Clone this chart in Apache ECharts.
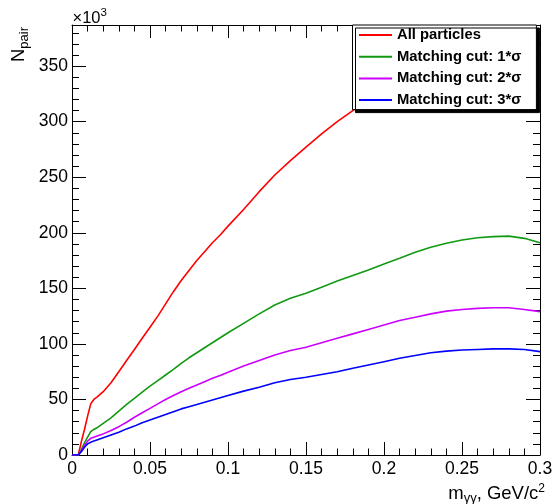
<!DOCTYPE html>
<html><head><meta charset="utf-8">
<script src="https://cdn.jsdelivr.net/npm/echarts@6/dist/echarts.min.js"></script>
<style>html,body{margin:0;padding:0;background:#fff}#c{width:553px;height:504px}</style>
</head><body><div id="c"></div>
<script>
// x positions (GeV/c^2) at which values were read
const xValues = [0, 0.004, 0.006, 0.008, 0.010, 0.012, 0.014, 0.016, 0.020, 0.025, 0.030, 0.035, 0.040, 0.045, 0.050, 0.055, 0.060, 0.065, 0.070, 0.075, 0.080, 0.085, 0.090, 0.095, 0.100, 0.110, 0.120, 0.130, 0.140, 0.150, 0.160, 0.170, 0.180, 0.190, 0.200, 0.210, 0.220, 0.230, 0.240, 0.250, 0.260, 0.270, 0.280, 0.290, 0.300];
// N_pair in units of 10^3
const allParticles = [0, 0, 12, 23, 35, 46, 50, 52, 57, 65, 75, 85, 95, 105, 115, 125, 136, 147, 157, 166, 175, 183, 191, 198, 206, 221, 237, 252, 265, 277, 289, 300, 310, 320, 329, 337, 344, 350, 356, 361, 365, 368, 370, 371, 370];
const cut1Sigma = [0, 0, 5, 11, 16, 21, 23, 24.5, 28.5, 33.5, 39.5, 45.5, 51, 56.5, 62, 67, 72, 77, 82.5, 87.5, 92, 96.5, 101, 105.5, 110, 118.5, 127, 135, 141, 145.5, 151, 156.5, 161.5, 166.5, 172, 177, 182.5, 187, 190.5, 193.5, 195.5, 196.5, 197, 195, 191];
const cut2Sigma = [0, 0, 4, 8.5, 12.5, 15, 16, 17, 19, 22, 25.5, 29.5, 34, 38, 42, 46, 50, 53.5, 57, 60, 63, 66, 69, 71.5, 74.5, 80, 85, 90, 94, 97, 101, 105, 109, 113, 117, 121, 124, 127, 129.5, 131, 132, 132.5, 132.5, 131, 129];
const cut3Sigma = [0, 0, 3, 7, 10, 11.5, 12.5, 13.5, 15.5, 18, 20.5, 23.5, 26, 29, 31.5, 34, 36.5, 39, 41.5, 43.5, 45.5, 47.5, 49.5, 51.5, 53.5, 57.5, 61, 65, 68, 70, 72.5, 75, 78, 81, 84, 87, 89.5, 92, 93.5, 94.5, 95, 95.5, 95.5, 95, 93];
const seriesNames = ['All particles', 'Matching cut: 1*σ', 'Matching cut: 2*σ', 'Matching cut: 3*σ'];
const seriesValues = [allParticles, cut1Sigma, cut2Sigma, cut3Sigma];
const seriesColors = ['#ff0000', '#119a11', '#cc00ff', '#0000ff'];
const xRange = [0, 0.3];
const yRange = [0, 387];

const FONT = "'Liberation Sans', Arial, Helvetica, sans-serif";
const BLACK = '#000';

function xAx(pos, showLabel) {
  return {
    type: 'value', position: pos, min: xRange[0], max: xRange[1], interval: 0.05,
    axisLine: { show: true, onZero: false, lineStyle: { color: BLACK, width: 1 } },
    axisTick: { show: true, inside: true, length: 13, lineStyle: { color: BLACK, width: 1 } },
    minorTick: { show: true, splitNumber: 5, length: 6.5, lineStyle: { color: BLACK, width: 1 } },
    splitLine: { show: false }, minorSplitLine: { show: false },
    axisLabel: { show: showLabel, color: BLACK, fontFamily: FONT, fontSize: 17.5, margin: 5 }
  };
}
function yAx(pos, interval, len, showLine, showLabel) {
  return {
    type: 'value', position: pos, min: yRange[0], max: yRange[1], interval: interval,
    axisLine: { show: showLine, onZero: false, lineStyle: { color: BLACK, width: 1 } },
    axisTick: { show: true, inside: true, length: len, lineStyle: { color: BLACK, width: 1 } },
    splitLine: { show: false },
    axisLabel: { show: showLabel, showMaxLabel: false, color: BLACK, fontFamily: FONT, fontSize: 17.5, margin: 4 }
  };
}

const chart = echarts.init(document.getElementById('c'), null, { renderer: 'canvas' });
chart.setOption({
  animation: false,
  backgroundColor: '#fff',
  grid: { left: 72, right: 13, top: 25, bottom: 49, containLabel: false, outerBoundsMode: 'none' },
  xAxis: [xAx('bottom', true), xAx('top', false)],
  yAxis: [yAx('left', 50, 14, true, true), yAx('right', 50, 14, true, false),
          yAx('left', 10, 7, false, false), yAx('right', 10, 7, false, false)],
  legend: {
    orient: 'vertical', left: 352.5, top: 25,
    padding: [1, 15, 0.5, 6.5],
    itemWidth: 33, itemHeight: 2, itemGap: 3.7, itemTextGap: 8, icon: 'rect',
    backgroundColor: '#fff', borderColor: BLACK, borderWidth: 1,
    shadowColor: BLACK, shadowOffsetX: 3, shadowOffsetY: 3, shadowBlur: 0,
    selectedMode: false,
    textStyle: { fontFamily: FONT, fontWeight: 'bold', fontSize: 14.8, color: BLACK, lineHeight: 18 },
    data: seriesNames
  },
  series: seriesNames.map((name, i) => ({
    name: name, type: 'line', xAxisIndex: 0, yAxisIndex: 0,
    symbol: 'none', showSymbol: false, smooth: false,
    color: seriesColors[i],
    lineStyle: { color: seriesColors[i], width: 1.6 },
    data: xValues.map((x, j) => [x, seriesValues[i][j]])
  })),
  graphic: [
    { type: 'text', x: 72.5, y: 18, style: {
        text: '{a|×10}{b|3}', align: 'left', verticalAlign: 'middle',
        rich: {
          a: { fontFamily: FONT, fontSize: 16.5, fill: BLACK, lineHeight: 22, verticalAlign: 'middle' },
          b: { fontFamily: FONT, fontSize: 11.5, fill: BLACK, lineHeight: 10, verticalAlign: 'top' }
        } } },
    { type: 'text', x: 19, y: 27, rotation: Math.PI / 2, style: {
        text: '{n|N}{s|pair}', align: 'right', verticalAlign: 'middle',
        rich: {
          n: { fontFamily: FONT, fontSize: 18.5, fill: BLACK, lineHeight: 24, verticalAlign: 'middle' },
          s: { fontFamily: FONT, fontSize: 13, fill: BLACK, lineHeight: 12, verticalAlign: 'bottom' }
        } } },
    { type: 'text', x: 545, y: 494, style: {
        text: '{m|m}{s|γγ}{m|, GeV/c}{p|2}', align: 'right', verticalAlign: 'middle',
        rich: {
          m: { fontFamily: FONT, fontSize: 18.5, fill: BLACK, lineHeight: 22, verticalAlign: 'middle' },
          s: { fontFamily: FONT, fontSize: 13, fill: BLACK, lineHeight: 12, verticalAlign: 'bottom' },
          p: { fontFamily: FONT, fontSize: 12, fill: BLACK, lineHeight: 12, verticalAlign: 'top' }
        } } }
  ]
});
</script></body></html>
